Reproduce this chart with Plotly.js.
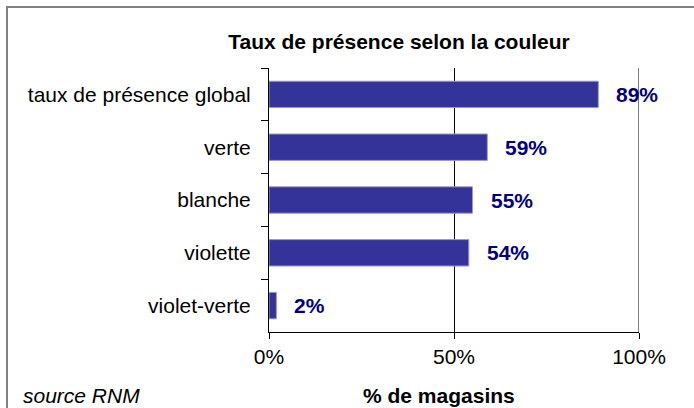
<!DOCTYPE html>
<html>
<head>
<meta charset="utf-8">
<script src="https://cdn.plot.ly/plotly-3.0.1.min.js"></script>
<style>
html,body{margin:0;padding:0;background:#fff;}
#chart{width:694px;height:408px;}
</style>
</head>
<body>
<div id="chart"></div>
<script>
const categories = ["taux de présence global", "verte", "blanche", "violette", "violet-verte"];
const values = [89, 59, 55, 54, 2];
const tickValues = [0, 50, 100];
const tickLabels = ["0%", "50%", "100%"];
const chartTitle = "Taux de présence selon la couleur";
const xTitle = "% de magasins";
const sourceText = "source RNM";

const FONT = "Liberation Sans, Arial, sans-serif";
const W = 694, H = 408;
const M = {l: 269, r: 55, t: 68, b: 76};
const PW = W - M.l - M.r, PH = H - M.t - M.b;
const px = x => (x - M.l) / PW;
const py = y => (H - M.b - y) / PH;

const trace = {
  type: "bar",
  orientation: "h",
  x: values,
  y: categories,
  width: 0.5,
  marker: {color: "#333399", line: {color: "#9a9acc", width: 1}},
  hoverinfo: "x+y"
};

const labelAnnotations = values.map((v, i) => ({
  x: v, y: categories[i], xref: "x", yref: "y",
  text: v + "%", showarrow: false, xanchor: "left", yanchor: "middle",
  xshift: 16,
  font: {family: FONT, size: 21, color: "#000080", weight: "bold"}
}));

const layout = {
  width: W, height: H,
  margin: M,
  paper_bgcolor: "#fff", plot_bgcolor: "#fff",
  showlegend: false,
  font: {family: FONT, size: 21, color: "#000"},
  title: {
    text: "<b>" + chartTitle + "</b>",
    xref: "container", yref: "container",
    x: 399 / W, y: 1 - 42 / H, xanchor: "center", yanchor: "middle",
    font: {family: FONT, size: 21, color: "#000"}
  },
  xaxis: {
    range: [0, 100],
    tickvals: tickValues, ticktext: tickLabels,
    ticks: "outside", ticklen: 6, tickcolor: "#000", tickwidth: 1,
    showline: true, linecolor: "#000", linewidth: 1,
    showgrid: true, gridcolor: "#000", gridwidth: 1,
    zeroline: false, fixedrange: true,
    tickfont: {family: FONT, size: 21, color: "#000"}
  },
  yaxis: {
    autorange: "reversed",
    type: "category",
    ticks: "outside", ticklen: 7, tickcolor: "#000", tickwidth: 1,
    tickson: "boundaries",
    ticklabelstandoff: 13,
    showline: true, linecolor: "#000", linewidth: 1,
    showgrid: false, zeroline: false, fixedrange: true,
    tickfont: {family: FONT, size: 21, color: "#000"}
  },
  shapes: [
    {type: "line", xref: "x", yref: "paper", x0: 100, x1: 100, y0: 0, y1: 1,
     line: {color: "#808080", width: 2}},
    {type: "rect", xref: "paper", yref: "paper",
     x0: px(7), x1: px(710), y0: py(7), y1: py(430),
     line: {color: "#808080", width: 2}, fillcolor: "rgba(0,0,0,0)"}
  ],
  annotations: labelAnnotations.concat([
    {x: px(439), y: py(395), xref: "paper", yref: "paper",
     text: "<b>" + xTitle + "</b>", showarrow: false, xanchor: "center", yanchor: "middle",
     font: {family: FONT, size: 21, color: "#000"}},
    {x: px(21), y: py(395), xref: "paper", yref: "paper",
     text: "<i>" + sourceText + "</i>", showarrow: false, xanchor: "left", yanchor: "middle",
     font: {family: FONT, size: 21, color: "#000"}}
  ])
};

Plotly.newPlot("chart", [trace], layout, {displayModeBar: false, staticPlot: true});
</script>
</body>
</html>
